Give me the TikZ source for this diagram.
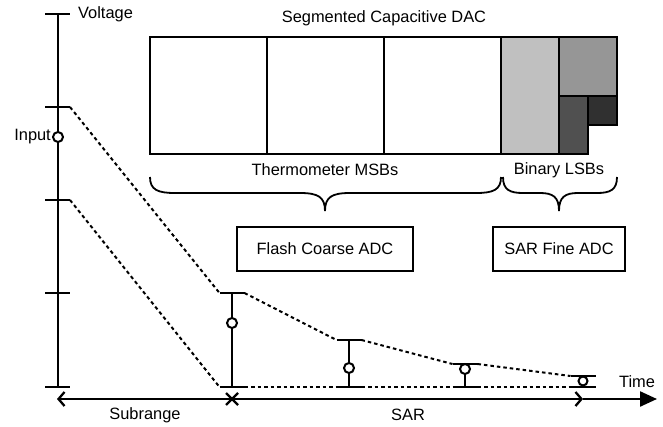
\documentclass[tikz,border=0pt]{standalone}
\usepackage{fontspec}
\setmainfont{Liberation Sans}
\usetikzlibrary{arrows.meta,calc}
\begin{document}
\begin{tikzpicture}[x=1pt,y=-1pt,
  every node/.style={font=\fontsize{16.4}{18}\selectfont, inner sep=0pt},
  solid line/.style={line width=2.3pt},
  dash line/.style={line width=2pt, dash pattern=on 3.5pt off 3pt},
  thin line/.style={line width=1.8pt},
  sample/.style={circle, draw, fill=white, line width=2pt, minimum size=10pt, inner sep=0pt},
  boxed/.style={draw, line width=2.2pt, minimum height=44pt, inner sep=0pt},
  capbox/.style={draw, line width=2.2pt}
]
\useasboundingbox (0,0) rectangle (663,427);
\definecolor{capA}{HTML}{C0C0C0}
\definecolor{capB}{HTML}{969696}
\definecolor{capC}{HTML}{505050}
\definecolor{capD}{HTML}{303030}

% ---------- vertical axis ----------
\coordinate (vtop) at (58,14);
\coordinate (vbot) at (58,387);
\draw[solid line] (vtop) -- (vbot);
\foreach \yy/\nm in {14/t0,107/t1,200/t2,293/t3,387/t4}{
  \coordinate (\nm L) at (45,\yy);
  \coordinate (\nm R) at (70,\yy);
  \draw[solid line] (\nm L) -- (\nm R);
}
\node[anchor=west] (volt) at (78,14) {Voltage};
\node[sample] (inp) at (58,137) {};
\node[anchor=east] (inplab) at (51,137) {Input};

% ---------- sampling bars ----------
\foreach \xx/\ytop/\nm in {232/293/s1,349/340/s2,465/364/s3,583/376/s4}{
  \coordinate (\nm TL) at ({\xx-12.5},\ytop);
  \coordinate (\nm TR) at ({\xx+12.5},\ytop);
  \coordinate (\nm BL) at ({\xx-12.5},387);
  \coordinate (\nm BR) at ({\xx+12.5},387);
  \coordinate (\nm T) at (\xx,\ytop);
  \coordinate (\nm B) at (\xx,387);
  \draw[solid line] (\nm TL) -- (\nm TR);
  \draw[solid line] (\nm BL) -- (\nm BR);
  \draw[solid line] (\nm T) -- (\nm B);
}
% dashed envelopes
\draw[dash line] (t1R) -- (s1TL);
\draw[dash line] (s1TR) -- (s2TL);
\draw[dash line] (s2TR) -- (s3TL);
\draw[dash line] (s3TR) -- (s4TL);
\draw[dash line] (t2R) -- (s1BL);
\draw[dash line] (s1BR) -- (s2BL);
\draw[dash line] (s2BR) -- (s3BL);
\draw[dash line] (s3BR) -- (s4BL);
% samples
\node[sample] (c1) at (232,323) {};
\node[sample] (c2) at (349,368) {};
\node[sample] (c3) at (465,369) {};
\node[sample, minimum size=9pt] (c4) at (583,381) {};

% ---------- time axis ----------
\coordinate (tl) at (57,399);
\coordinate (tx) at (232,399);
\coordinate (ts) at (583,399);
\coordinate (te) at (657,399);
\draw[solid line, {Straight Barb[length=6pt,width=14pt,line width=2.3pt]}-] (tl) -- (tx);
\draw[solid line, -{Straight Barb[length=6pt,width=14pt,line width=2.3pt]}] (tx) -- (ts);
\draw[solid line, -{Triangle[length=17pt,width=15pt]}] (ts) -- (te);
\draw[solid line] ($(tx)+(-6,-6)$) -- ($(tx)+(6,6)$);
\draw[solid line] ($(tx)+(-6,6)$) -- ($(tx)+(6,-6)$);
\node (time) at (637,382) {Time};
\node (subr) at (145,415) {Subrange};
\node (sar) at (408,415) {SAR};

% ---------- DAC ----------
\node (dactitle) at (384,18) {Segmented Capacitive DAC};
\draw[capbox] (150,37) rectangle (267,154);
\draw[capbox] (267,37) rectangle (384,154);
\draw[capbox] (384,37) rectangle (501,154);
\draw[capbox, fill=capA] (501,37) rectangle (559,154);
\draw[capbox, fill=capB] (559,37) rectangle (617,96);
\draw[capbox, fill=capC] (559,96) rectangle (588,154);
\draw[capbox, fill=capD] (588,96) rectangle (617,125);

\node (msb) at (325,170) {Thermometer MSBs};
\node (lsb) at (559,170) {Binary LSBs};

% braces
\coordinate (b1l) at (150,177);
\coordinate (b1r) at (501,177);
\coordinate (b1t) at (325,211);
\draw[thin line] (b1l) .. controls (150,190) and (158,193) .. (175,193) -- (300,193)
  .. controls (318,193) and (325,197) .. (b1t);
\draw[thin line] (b1r) .. controls (501,190) and (493,193) .. (476,193) -- (350,193)
  .. controls (332,193) and (325,197) .. (b1t);
\coordinate (b2l) at (503,177);
\coordinate (b2r) at (617,177);
\coordinate (b2t) at (559,211);
\draw[thin line] (b2l) .. controls (503,190) and (510,193) .. (523,193) -- (540,193)
  .. controls (553,193) and (559,197) .. (b2t);
\draw[thin line] (b2r) .. controls (617,190) and (610,193) .. (597,193) -- (578,193)
  .. controls (565,193) and (559,197) .. (b2t);

% ADC boxes
\node[boxed, minimum width=176pt] (flash) at (325,249) {Flash Coarse ADC};
\node[boxed, minimum width=132pt] (fine) at (559,249) {SAR Fine ADC};
\end{tikzpicture}
\end{document}
